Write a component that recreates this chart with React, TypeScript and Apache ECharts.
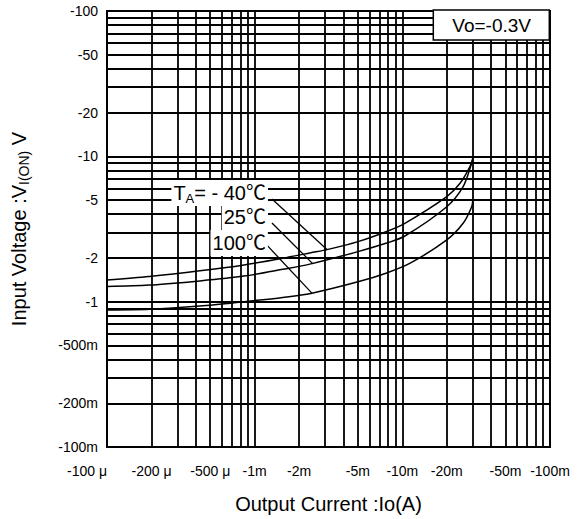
import React, { useEffect, useRef } from 'react';
import * as echarts from 'echarts';

// ---- Axis ticks (labelled values) ----
const xTickValues = [-0.0001, -0.0002, -0.0005, -0.001, -0.002, -0.005, -0.01, -0.02, -0.05, -0.1];
const xTickLabels = ['-100 μ', '-200 μ', '-500 μ', '-1m', '-2m', '-5m', '-10m', '-20m', '-50m', '-100m'];
const yTickValues = [-0.1, -0.2, -0.5, -1, -2, -5, -10, -20, -50, -100];
const yTickLabels = ['-100m', '-200m', '-500m', '-1', '-2', '-5', '-10', '-20', '-50', '-100'];

// ---- Log grid (decades and 1..9 multipliers) ----
const xDecades = [-0.0001, -0.001, -0.01];
const yDecades = [-0.1, -1, -10];
const gridMultipliers = [1, 2, 3, 4, 5, 6, 7, 8, 9];

// ---- Curves: Output current Io (A) vs input voltage VI(ON) (V) ----
const seriesNames = ['TA=-40℃', 'TA=25℃', 'TA=100℃'];
const ioMinus40 = [-0.0001, -0.000193, -0.000426, -0.000847, -0.00155, -0.0024, -0.00314, -0.00501, -0.00775, -0.0104, -0.02, -0.0246, -0.0287, -0.03];
const viMinus40 = [-1.41, -1.49, -1.63, -1.79, -1.99, -2.17, -2.29, -2.59, -3.03, -3.46, -5.28, -6.52, -8.49, -9.69];
const io25 = [-0.0001, -0.000193, -0.000426, -0.000847, -0.00155, -0.0024, -0.00501, -0.00775, -0.0104, -0.02, -0.0258, -0.0295, -0.03];
const vi25 = [-1.27, -1.30, -1.39, -1.50, -1.67, -1.82, -2.21, -2.52, -2.83, -4.50, -6.18, -8.95, -9.43];
const io100 = [-0.0001, -0.000193, -0.000426, -0.000847, -0.00155, -0.0024, -0.00501, -0.00775, -0.0113, -0.02, -0.0258, -0.0295, -0.03];
const vi100 = [-0.876, -0.886, -0.933, -1.0, -1.07, -1.14, -1.37, -1.57, -1.84, -2.66, -3.46, -4.50, -5.01];

// ---- Annotations: label anchor -> point on curve ----
const annotationTexts = ['{t|T}{s|A}{t|= - 40℃}', '{t|25℃}', '{t|100℃}'];
const anchorIo = [-0.00131, -0.00131, -0.00121];
const anchorVi = [-5.09, -3.48, -2.45];
const targetIo = [-0.0031, -0.00248, -0.00244];
const targetVi = [-2.28, -1.82, -1.145];

const conditionText = 'Vo=-0.3V';

const FONT = '"Liberation Sans", Arial, "Noto Sans CJK JP", sans-serif';
const lg = (v: number) => Math.log10(Math.abs(v));

const gridValues = (decades: number[]) => {
  const out: number[] = [];
  decades.forEach((d) => gridMultipliers.forEach((m) => out.push(lg(d * m))));
  out.push(lg(decades[decades.length - 1] * 10));
  return out.filter((v, i) => out.findIndex((w) => Math.abs(w - v) < 1e-9) === i);
};

const lookup = (vals: number[], labels: string[], v: number) => {
  for (let i = 0; i < vals.length; i++) {
    if (Math.abs(lg(vals[i]) - v) < 1e-6) return labels[i];
  }
  return '';
};

const pairs = (xs: number[], ys: number[]) => xs.map((x, i) => [lg(x), lg(ys[i])]);

export default function App() {
  const ref = useRef<HTMLDivElement>(null);

  useEffect(() => {
    if (!ref.current) return;
    const chart = echarts.init(ref.current, undefined, { renderer: 'svg' });

    const curveData = [pairs(ioMinus40, viMinus40), pairs(io25, vi25), pairs(io100, vi100)];
    const labelDistances = [4, 4, 0];
    const labelOffsets = [[0, -6], [0, -6], [1, -2]];

    const curveSeries = curveData.map((d, i) => ({
      name: seriesNames[i],
      type: 'line',
      data: d,
      showSymbol: false,
      smooth: 0.3,
      lineStyle: { color: '#000', width: 1.5 },
      itemStyle: { color: '#000' },
      z: 3,
      silent: true,
    }));

    const annotationSeries = annotationTexts.map((txt, i) => ({
      type: 'line',
      data: [
        {
          value: [lg(anchorIo[i]), lg(anchorVi[i])],
          label: {
            show: true,
            position: 'left',
            distance: labelDistances[i],
            offset: labelOffsets[i],
            formatter: txt,
            backgroundColor: '#fff',
            padding: [1, 2, 1, 2],
            color: '#000',
            rich: {
              t: { fontSize: 20, color: '#000', fontFamily: FONT, lineHeight: 24 },
              s: { fontSize: 13, color: '#000', fontFamily: FONT, verticalAlign: 'bottom' },
            },
          },
        },
        [lg(targetIo[i]), lg(targetVi[i])],
      ],
      symbol: 'circle',
      symbolSize: 0,
      showSymbol: true,
      lineStyle: { color: '#000', width: 1.3 },
      itemStyle: { color: '#000' },
      z: 4,
      silent: true,
    }));

    const option: any = {
      animation: false,
      backgroundColor: '#fff',
      textStyle: { fontFamily: FONT },
      title: {
        text: conditionText,
        right: 30,
        top: 10,
        padding: [4, 19, 4, 19],
        backgroundColor: '#fff',
        borderColor: '#000',
        borderWidth: 1.5,
        z: 10,
        textStyle: { fontSize: 19, lineHeight: 22, fontWeight: 'normal', color: '#000', fontFamily: FONT },
      },
      grid: {
        left: 107,
        right: 30,
        top: 11,
        bottom: 72,
        show: true,
        borderColor: '#000',
        borderWidth: 2,
        backgroundColor: 'transparent',
        containLabel: false,
        outerBoundsMode: 'none',
      },
      xAxis: {
        type: 'value',
        min: lg(xDecades[0]),
        max: lg(xDecades[xDecades.length - 1] * 10),
        name: 'Output Current :Io(A)',
        nameLocation: 'middle',
        nameGap: 47,
        nameTextStyle: { fontSize: 20, color: '#000', fontFamily: FONT },
        axisLine: { show: true, lineStyle: { color: '#000', width: 2 } },
        axisTick: { show: false, customValues: gridValues(xDecades) },
        axisLabel: {
          customValues: xTickValues.map(lg),
          formatter: (v: number) => lookup(xTickValues, xTickLabels, v),
          fontSize: 14,
          color: '#000',
          margin: 17,
          fontFamily: FONT,
          alignMinLabel: 'right',
          hideOverlap: false,
        },
        splitLine: { show: true, lineStyle: { color: '#000', width: 1.8 } },
      },
      yAxis: {
        type: 'value',
        min: lg(yDecades[0]),
        max: lg(yDecades[yDecades.length - 1] * 10),
        name: 'Input Voltage :V{s|I(ON)} V',
        nameLocation: 'middle',
        nameRotate: 90,
        nameGap: 76,
        nameTextStyle: {
          fontSize: 20,
          lineHeight: 24,
          color: '#000',
          fontFamily: FONT,
          rich: {
            s: { fontSize: 14, color: '#000', fontFamily: FONT, verticalAlign: 'bottom' },
          },
        },
        axisLine: { show: true, lineStyle: { color: '#000', width: 2 } },
        axisTick: { show: false, customValues: gridValues(yDecades) },
        axisLabel: {
          customValues: yTickValues.map(lg),
          formatter: (v: number) => lookup(yTickValues, yTickLabels, v),
          fontSize: 14,
          color: '#000',
          margin: 9,
          fontFamily: FONT,
          hideOverlap: false,
        },
        splitLine: { show: true, lineStyle: { color: '#000', width: 1.8 } },
      },
      series: [...curveSeries, ...annotationSeries],
    };

    chart.setOption(option);
    return () => chart.dispose();
  }, []);

  return (
    <div
      ref={ref}
      style={{ position: 'fixed', left: 0, top: 0, width: 580, height: 519, background: '#fff' }}
    />
  );
}
